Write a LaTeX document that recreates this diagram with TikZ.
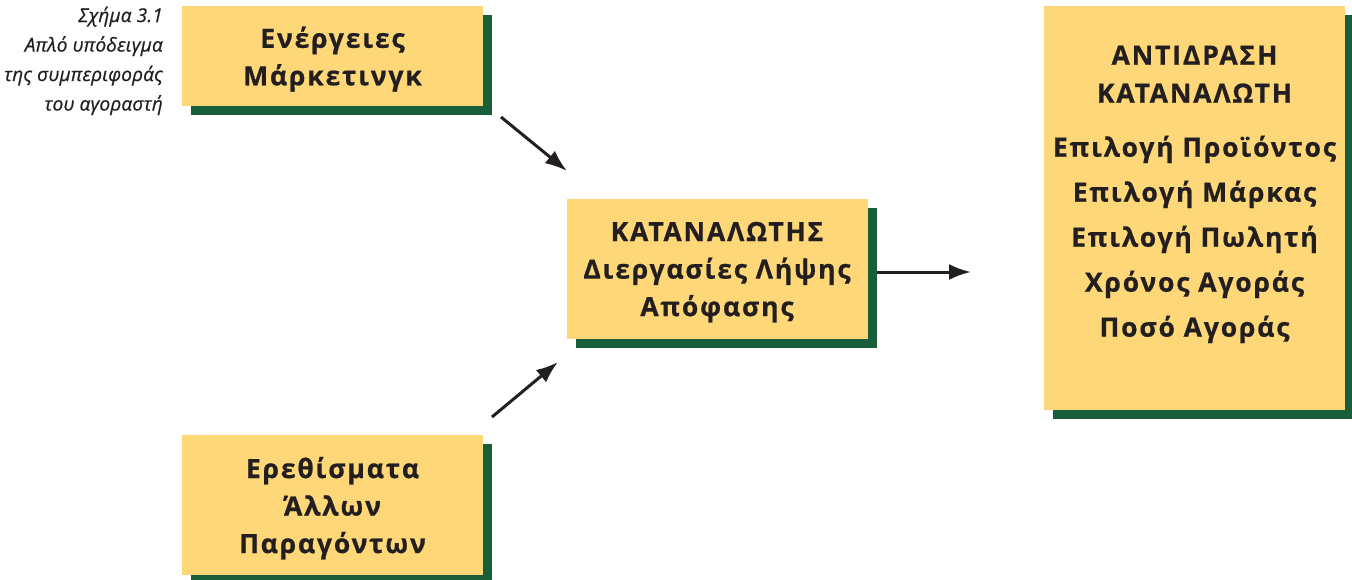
\documentclass[tikz,border=0pt]{standalone}
\usepackage{fontspec}
\setmainfont{Open Sans}
\newfontfamily\boxfont[LetterSpace=7,FakeBold=0.7]{Open Sans}
\newfontfamily\capfont[LetterSpace=1,FakeBold=0.7]{Open Sans}
\usetikzlibrary{shadows,arrows.meta}
\definecolor{boxyellow}{RGB}{253,215,120}
\definecolor{shadowgreen}{RGB}{24,94,57}
\definecolor{ink}{RGB}{35,31,32}
\begin{document}
\begin{tikzpicture}[x=1pt,y=-1pt,
  panel/.style={fill=boxyellow, draw=none, minimum width=301pt, inner sep=0pt, text depth=0pt,
    drop shadow={shadow xshift=9pt, shadow yshift=-9pt, fill=shadowgreen, opacity=1},
    text=ink, align=center, font=\boxfont\bfseries\fontsize{26.5}{37.5}\selectfont},
  paneltext/.style={text=ink, align=center, inner sep=0pt, font=\boxfont\bfseries\fontsize{26.5}{38}\selectfont},
  link/.style={draw=ink, line width=3pt, -{Latex[length=22pt,width=16pt]}},
  captiontext/.style={font=\capfont\itshape\fontsize{19}{29.5}\selectfont, align=right, text=ink, anchor=north east, inner sep=0pt}]
\useasboundingbox (0,0) rectangle (1352,580);
\node[captiontext] (cap) at (163,6.5) {Σχήμα 3.1\\Απλό υπόδειγμα\\της συμπεριφοράς\\του αγοραστή};
\node[panel, minimum height=100pt] (mkt) at (332.5,56) {Ενέργειες\\Μάρκετινγκ};
\node[panel, minimum height=140pt] (cons) at (717,269) {ΚΑΤΑΝΑΛΩΤΗΣ\\Διεργασίες Λήψης\\Απόφασης};
\node[panel, minimum height=140pt] (oth) at (332.5,505) {Ερεθίσματα\\Άλλων\\Παραγόντων};
\node[panel, minimum height=404pt] (resp) at (1194.5,208) {};
\node[paneltext, anchor=north] (resptext) at (1194.5,45.5) {ΑΝΤΙΔΡΑΣΗ\\ΚΑΤΑΝΑΛΩΤΗ\\[16pt]Επιλογή Προϊόντος\\[7pt]Επιλογή Μάρκας\\[7pt]Επιλογή Πωλητή\\[7pt]Χρόνος Αγοράς\\[7pt]Ποσό Αγοράς};
\coordinate (a1s) at (501,117);
\coordinate (a1e) at (567,171);
\coordinate (a2s) at (492,417);
\coordinate (a2e) at (558,362);
\coordinate (a3s) at (877,272);
\coordinate (a3e) at (971,272);
\draw[link] (a1s) -- (a1e);
\draw[link] (a2s) -- (a2e);
\draw[link] (a3s) -- (a3e);
\end{tikzpicture}
\end{document}
